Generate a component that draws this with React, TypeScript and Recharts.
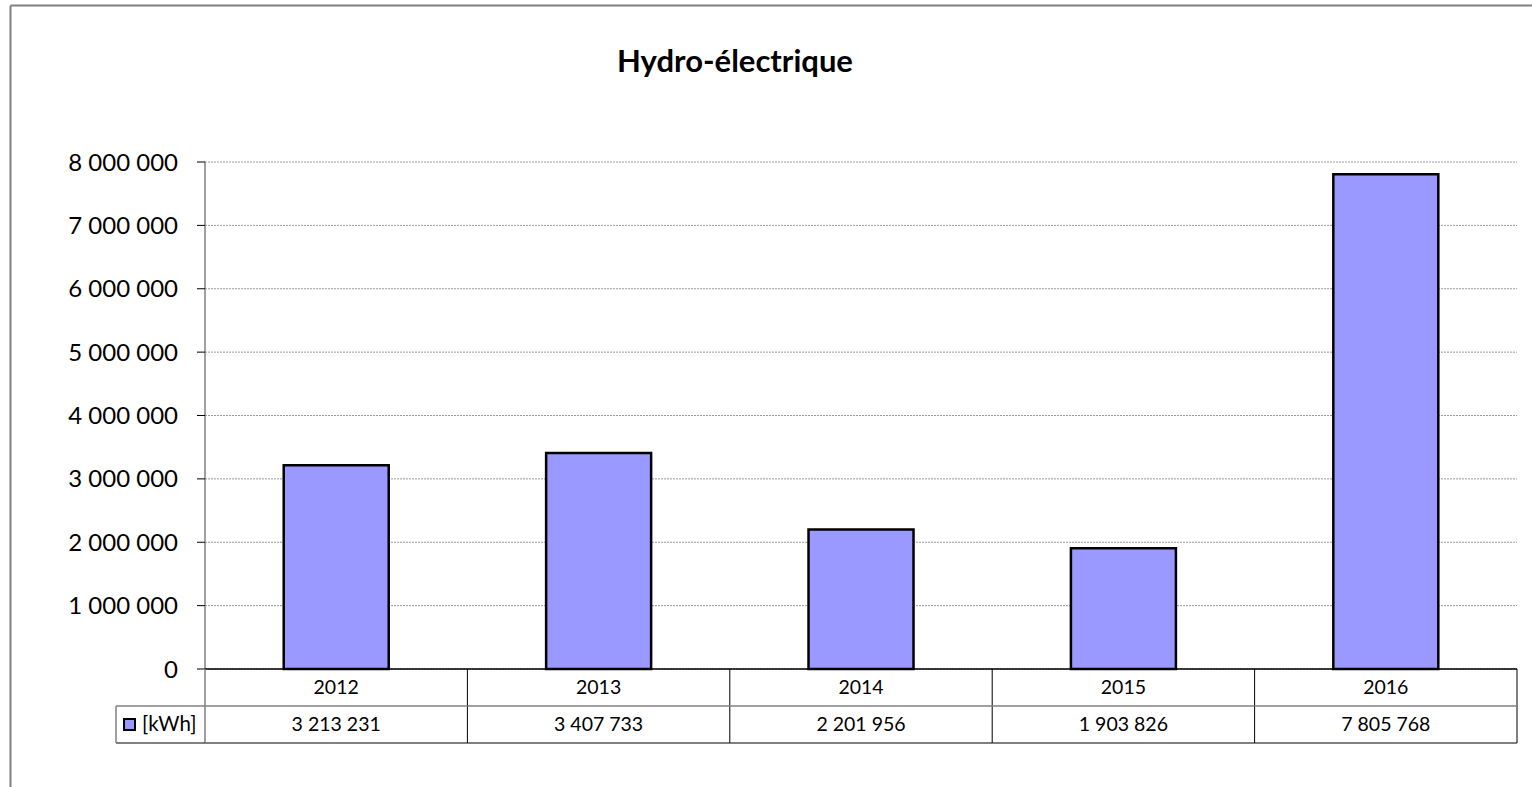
import React from 'react';
import { ComposedChart, Bar, XAxis, YAxis, CartesianGrid } from 'recharts';

const years = ['2012', '2013', '2014', '2015', '2016'];
const values = [3213231, 3407733, 2201956, 1903826, 7805768];
const yTicks = [0, 1000000, 2000000, 3000000, 4000000, 5000000, 6000000, 7000000, 8000000];
const title = 'Hydro-électrique';
const seriesName = '[kWh]';

const data = years.map((y, i) => ({ year: y, value: values[i] }));

const fmt = (v: number) => String(Math.round(v)).replace(/\B(?=(\d{3})+(?!\d))/g, ' ');

const FONT = 'Lato, "Open Sans", sans-serif';
const W = 1532;
const H = 787;
const M = { top: 162, right: 15, bottom: 44, left: 125 };
const YW = 80;
const XH = 74;
const ROW = 37;
const LEGEND_W = 89;

const TableTick = (props: any) => {
  const { x, y, payload, index } = props;
  const plotW = W - M.left - M.right - YW;
  const half = payload && payload.offset ? payload.offset : plotW / years.length / 2;
  const i = index ?? years.indexOf(payload.value);
  const left = x - half;
  const right = x + half;
  return (
    <g>
      <line x1={right} y1={y} x2={right} y2={y + XH} stroke="#000" strokeWidth={1} />
      <line x1={left} y1={y + ROW} x2={right} y2={y + ROW} stroke="#808080" strokeWidth={1.5} />
      <line x1={left} y1={y + XH} x2={right} y2={y + XH} stroke="#000" strokeWidth={1} />
      <text x={x} y={y + 25} textAnchor="middle" fontFamily={FONT} fontSize={19.5} fill="#000">
        {payload.value}
      </text>
      <text x={x} y={y + ROW + 25} textAnchor="middle" fontFamily={FONT} fontSize={19.5} fill="#000">
        {fmt(values[i])}
      </text>
      {i === 0 && (
        <g>
          <line x1={left} y1={y} x2={left} y2={y + XH} stroke="#808080" strokeWidth={1.5} />
          <line x1={left - LEGEND_W} y1={y + ROW} x2={left} y2={y + ROW} stroke="#808080" strokeWidth={1.5} />
          <line x1={left - LEGEND_W} y1={y + XH} x2={left} y2={y + XH} stroke="#000" strokeWidth={1} />
          <line x1={left - LEGEND_W} y1={y + ROW} x2={left - LEGEND_W} y2={y + XH} stroke="#808080" strokeWidth={1.5} />
          <rect x={left - LEGEND_W + 8} y={y + ROW + 13} width={11} height={11} fill="#9999FF" stroke="#000" strokeWidth={2} />
          <text x={left - LEGEND_W + 26} y={y + ROW + 25} fontFamily={FONT} fontSize={20.5} fill="#000">
            {seriesName}
          </text>
        </g>
      )}
    </g>
  );
};

export default function App() {
  return (
    <div style={{ position: 'absolute', left: 0, top: 0, width: W, height: H, background: '#fff' }}>
      <svg width={W} height={H} style={{ position: 'absolute', left: 0, top: 0 }}>
        <line x1={10.5} y1={5.5} x2={W} y2={5.5} stroke="#808080" strokeWidth={2} />
        <line x1={10.5} y1={5.5} x2={10.5} y2={H} stroke="#808080" strokeWidth={2} />
        <text x={735} y={72} textAnchor="middle" fontFamily={FONT} fontWeight="bold" fontSize={31} fill="#000">
          {title}
        </text>
      </svg>
      <div style={{ position: 'absolute', left: 0, top: 0 }}>
        <ComposedChart width={W} height={H} data={data} margin={M} barCategoryGap="30%">
          <CartesianGrid vertical={false} stroke="#9a9a9a" strokeDasharray="2 1" />
          <YAxis
            width={YW}
            domain={[0, 8000000]}
            ticks={yTicks}
            interval={0}
            tickFormatter={fmt}
            axisLine={{ stroke: '#808080', strokeWidth: 1.5 }}
            tickLine={{ stroke: '#000', strokeWidth: 1 }}
            tickSize={8}
            tickMargin={19}
            tick={{ fontFamily: FONT, fontSize: 24, fill: '#000' }}
          />
          <XAxis
            dataKey="year"
            height={XH}
            interval={0}
            tickSize={0}
            tickMargin={0}
            tickLine={false}
            axisLine={{ stroke: '#000', strokeWidth: 1.5 }}
            tick={<TableTick />}
          />
          <Bar dataKey="value" fill="#9999FF" stroke="#000" strokeWidth={2.5} isAnimationActive={false} />
        </ComposedChart>
      </div>
    </div>
  );
}
